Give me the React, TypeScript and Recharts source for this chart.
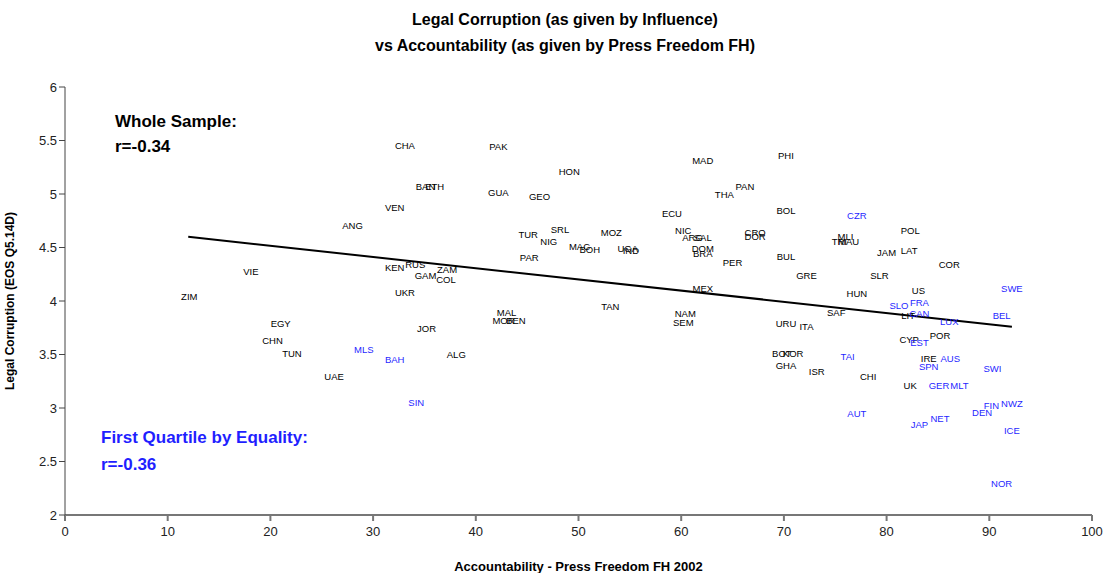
import React from "react";
import { ScatterChart, Scatter, XAxis, YAxis } from "recharts";

// whole sample (black labels)
const blackCodes = [
  "CHA", "PAK", "HON", "MAD", "PHI", "BAN", "ETH", "GUA", "GEO", "THA", "PAN", "VEN", "ECU", "BOL",
  "ANG", "SRL", "TUR", "NIG", "MOZ", "NIC", "ARG", "SAL", "CRO", "DOR", "POL", "MLI", "TRI", "MAU",
  "MAC", "BOH", "UGA", "IND", "DOM", "BRA", "PAR", "PER", "BUL", "JAM", "LAT", "COR", "VIE", "KEN",
  "RUS", "ZAM", "GAM", "COL", "GRE", "SLR", "ZIM", "UKR", "MEX", "US", "HUN", "TAN", "SAF", "LIT",
  "MAL", "MOR", "BEN", "NAM", "SEM", "URU", "ITA", "EGY", "JOR", "CHN", "CYP", "POR", "TUN", "ALG",
  "BOT", "KOR", "GHA", "IRE", "ISR", "CHI", "UAE", "UK",
];
const blackX = [
  33.1, 42.2, 49.1, 62.1, 70.2, 35.1, 36.0, 42.2, 46.2, 64.2, 66.2, 32.1, 59.1, 70.2,
  28.0, 48.2, 45.1, 47.1, 53.2, 60.2, 61.1, 62.1, 67.2, 67.2, 82.3, 76.0, 75.4, 76.3,
  50.1, 51.1, 54.8, 55.1, 62.1, 62.1, 45.2, 65.0, 70.2, 80.0, 82.2, 86.1, 18.1, 32.1,
  34.1, 37.2, 35.1, 37.1, 72.2, 79.3, 12.1, 33.1, 62.1, 83.1, 77.1, 53.1, 75.1, 82.1,
  43.0, 42.7, 43.9, 60.4, 60.2, 70.2, 72.2, 21.0, 35.2, 20.2, 82.2, 85.2, 22.1, 38.1,
  69.8, 70.9, 70.2, 84.1, 73.2, 78.2, 26.2, 82.3,
];
const blackY = [
  5.45, 5.44, 5.21, 5.31, 5.36, 5.07, 5.07, 5.01, 4.98, 5.0, 5.07, 4.87, 4.82, 4.85,
  4.71, 4.67, 4.62, 4.56, 4.64, 4.66, 4.59, 4.59, 4.64, 4.6, 4.66, 4.6, 4.56, 4.56,
  4.51, 4.48, 4.49, 4.47, 4.49, 4.44, 4.41, 4.36, 4.42, 4.45, 4.47, 4.34, 4.28, 4.31,
  4.34, 4.29, 4.24, 4.2, 4.24, 4.24, 4.04, 4.08, 4.12, 4.1, 4.07, 3.95, 3.89, 3.86,
  3.89, 3.82, 3.82, 3.88, 3.8, 3.79, 3.76, 3.79, 3.74, 3.63, 3.64, 3.68, 3.51, 3.5,
  3.51, 3.51, 3.4, 3.46, 3.34, 3.29, 3.29, 3.21,
];

// first quartile by equality (blue labels)
const blueCodes = [
  "CZR", "SWE", "SLO", "FRA", "CAN", "LUX", "BEL", "EST", "MLS", "TAI", "AUS", "SPN", "SWI", "BAH",
  "GER", "MLT", "SIN", "FIN", "NWZ", "DEN", "AUT", "NET", "JAP", "ICE", "NOR",
];
const blueX = [
  77.1, 92.2, 81.2, 83.2, 83.2, 86.1, 91.2, 83.2, 29.1, 76.2, 86.2, 84.1, 90.3, 32.1,
  85.1, 87.1, 34.2, 90.2, 92.2, 89.3, 77.1, 85.2, 83.2, 92.2, 91.2,
];
const blueY = [
  4.8, 4.12, 3.96, 3.99, 3.88, 3.81, 3.86, 3.61, 3.55, 3.48, 3.46, 3.39, 3.37, 3.45,
  3.21, 3.21, 3.05, 3.02, 3.04, 2.96, 2.95, 2.9, 2.85, 2.79, 2.29,
];

const trendX = [12, 92.2];
const trendY = [4.6, 3.76];

const xTicks = [0, 10, 20, 30, 40, 50, 60, 70, 80, 90, 100];
const yTicks = [2, 2.5, 3, 3.5, 4, 4.5, 5, 5.5, 6];

const blackData = blackCodes.map((c, i) => ({ code: c, x: blackX[i], y: blackY[i] }));
const blueData = blueCodes.map((c, i) => ({ code: c, x: blueX[i], y: blueY[i] }));
const trendData = trendX.map((x, i) => ({ x, y: trendY[i] }));

const BLUE = "#1f1fff";
const narrow = "'Liberation Sans Narrow', 'Liberation Sans', Arial, sans-serif";
const sans = "'Liberation Sans', Arial, sans-serif";

function makeLabel(color: string) {
  return (props: any) => (
    <text
      x={props.cx}
      y={props.cy}
      textAnchor="middle"
      dominantBaseline="central"
      fontSize={9.5}
      fontFamily={sans}
      fill={color}
    >
      {props.payload.code}
    </text>
  );
}

export default function App() {
  return (
    <div style={{ position: "absolute", left: 0, top: 0, width: 1113, height: 573, background: "#fff" }}>
      <div
        style={{
          position: "absolute",
          left: 0,
          width: 1130,
          top: 7,
          textAlign: "center",
          fontFamily: sans,
          fontWeight: "bold",
          fontSize: 16,
          lineHeight: "26px",
        }}
      >
        Legal Corruption (as given by Influence)
        <br />
        vs Accountability (as given by Press Freedom FH)
      </div>

      <ScatterChart width={1113} height={573} margin={{ top: 87, right: 21, left: 0, bottom: 0 }}>
        <XAxis
          type="number"
          dataKey="x"
          domain={[0, 100]}
          ticks={xTicks}
          height={58}
          stroke="#777"
          strokeWidth={2}
          tickSize={6}
          tick={{ fontSize: 13, fontFamily: narrow, fill: "#222" }}
          tickMargin={6}
          label={{
            value: "Accountability - Press Freedom FH 2002",
            position: "insideBottom",
            offset: 2,
            style: { fontSize: 13, fontFamily: narrow, fontWeight: "bold", fill: "#000" },
          }}
        />
        <YAxis
          type="number"
          dataKey="y"
          domain={[2, 6]}
          ticks={yTicks}
          width={65}
          stroke="#444"
          tickSize={6}
          tick={{ fontSize: 13, fontFamily: sans, fill: "#222" }}
          label={{
            value: "Legal Corruption (EOS Q5.14D)",
            angle: -90,
            position: "insideLeft",
            offset: 10,
            style: { textAnchor: "middle", fontSize: 12, fontFamily: sans, fontWeight: "bold", fill: "#000" },
          }}
        />
        <Scatter data={trendData} line={{ stroke: "#000", strokeWidth: 2 }} shape={() => null} isAnimationActive={false} />
        <Scatter data={blackData} shape={makeLabel("#000")} isAnimationActive={false} />
        <Scatter data={blueData} shape={makeLabel(BLUE)} isAnimationActive={false} />
      </ScatterChart>

      <div style={{ position: "absolute", left: 115, top: 109, fontFamily: sans, fontWeight: "bold", fontSize: 17, lineHeight: "25px" }}>
        Whole Sample:
        <br />
        r=-0.34
      </div>
      <div
        style={{ position: "absolute", left: 101, top: 424, fontFamily: sans, fontWeight: "bold", fontSize: 17, lineHeight: "27px", color: BLUE }}
      >
        First Quartile by Equality:
        <br />
        r=-0.36
      </div>
    </div>
  );
}
